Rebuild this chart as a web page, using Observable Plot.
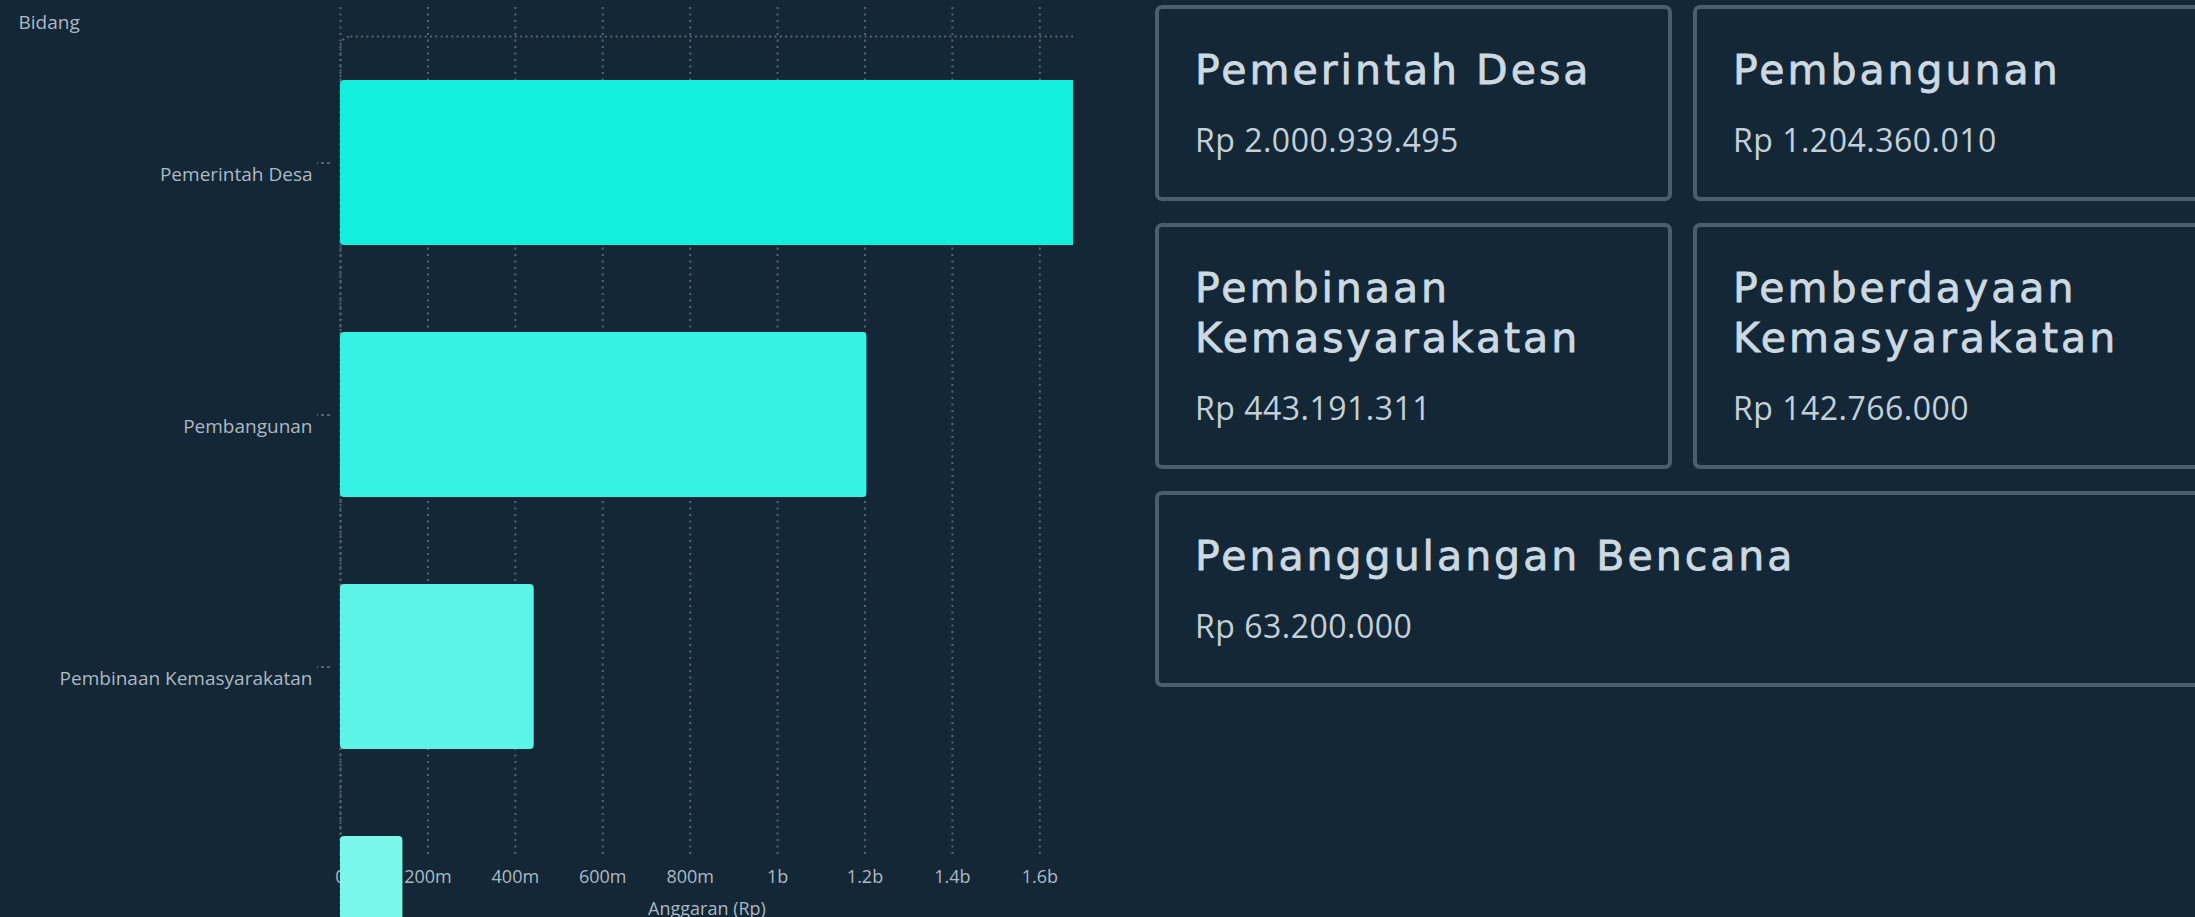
<!DOCTYPE html>
<html>
<head>
<meta charset="utf-8">
<script src="https://cdn.jsdelivr.net/npm/d3@7"></script>
<script src="https://cdn.jsdelivr.net/npm/@observablehq/plot@0.6"></script>
<style>
  html, body { margin: 0; padding: 0; background: #132736; width: 2195px; height: 917px; overflow: hidden; }
  #chart { position: absolute; left: 0; top: 0; width: 1073px; height: 917px; overflow: hidden; }
  #cards { position: absolute; left: 1155px; top: 5px; display: grid; grid-template-columns: 517px 517px; column-gap: 21px; row-gap: 22px; }
  .card { box-sizing: border-box; border: 4px solid #4a5f6d; border-radius: 7px; padding: 36px 36px 39px 36px; }
  .card.wide { grid-column: 1 / span 2; }
  .card h3 { margin: 0; font-family: "DejaVu Sans", sans-serif; font-weight: normal; font-size: 41px; line-height: 50px; letter-spacing: 3px; color: #cdd9e1; -webkit-text-stroke: 0.8px #cdd9e1; }
  .card p { margin: 27px 0 0 0; font-family: "Open Sans", sans-serif; font-size: 32px; line-height: 36px; letter-spacing: 0.5px; color: #c4d0d9; }
</style>
</head>
<body>
<div id="chart"></div>
<div id="cards"></div>
<script>
const categories = ["Pemerintah Desa", "Pembangunan", "Pembinaan Kemasyarakatan", "Pemberdayaan Kemasyarakatan", "Penanggulangan Bencana"];
const cardTitles = ["Pemerintah Desa", "Pembangunan", "Pembinaan<br>Kemasyarakatan", "Pemberdayaan<br>Kemasyarakatan", "Penanggulangan Bencana"];
const budgets = [2000939495, 1204360010, 443191311, 142766000, 63200000];
const xTickValues = [0, 2e8, 4e8, 6e8, 8e8, 1e9, 1.2e9, 1.4e9, 1.6e9];
const xTickLabels = ["0", "200m", "400m", "600m", "800m", "1b", "1.2b", "1.4b", "1.6b"];

const barColors = ["#12efdc", "#36f2e2", "#5cf4e6", "#7af6ea", "#8ff7ee"];

const data = categories.map((c, i) => ({bidang: c, anggaran: budgets[i]}));
const gridColor = "#56666f";

const chart = Plot.plot({
  width: 1073,
  height: 917,
  marginLeft: 340,
  marginRight: 0,
  marginTop: 7,
  marginBottom: 60,
  style: {background: "transparent", color: "#adb9c2", fontFamily: "'Open Sans', sans-serif", fontSize: "18px"},
  x: {domain: [0, 1.677e9]},
  y: {domain: categories, range: [-7, 1340], padding: 0.345},
  color: {domain: categories, range: barColors},
  marks: [
    Plot.gridX(xTickValues, {stroke: gridColor, strokeOpacity: 1, strokeWidth: 2, strokeDasharray: "2,4.5"}),
    Plot.frame({stroke: gridColor, strokeWidth: 2, strokeDasharray: "2,3.3", rx: 10, insetTop: 29, insetRight: -60, insetBottom: -400}),
    Plot.axisY({fill: "none", tickSize: 13, dx: -10, stroke: "#6a7883", strokeWidth: 1.5, strokeDasharray: "3,3", label: null}),
    Plot.axisY({tickSize: 0, tickPadding: 28, dy: 12, fontSize: 19, fill: "#adb9c2", label: null}),
    Plot.text(["Bidang"], {frameAnchor: "top-left", textAnchor: "start", lineAnchor: "top", dx: -322, dy: 8, fontSize: 19, fill: "#adb9c2"}),
    Plot.axisX({ticks: xTickValues, tickFormat: (d, i) => xTickLabels[i], tickSize: 0, tickPadding: 13, fontSize: 18, fill: "#adb9c2",
      label: "Anggaran (Rp)", labelAnchor: "center", labelOffset: 57, labelArrow: false}),
    Plot.barX(data, {x: "anggaran", y: "bidang", fill: "bidang", rx: 4})
  ]
});
document.getElementById("chart").append(chart);

const fmt = v => "Rp " + d3.format(",")(v).replace(/,/g, ".");
const cards = document.getElementById("cards");
categories.forEach((c, i) => {
  const div = document.createElement("div");
  div.className = "card" + (i === 4 ? " wide" : "");
  div.innerHTML = `<h3>${cardTitles[i]}</h3><p>${fmt(budgets[i])}</p>`;
  cards.append(div);
});
</script>
</body>
</html>
